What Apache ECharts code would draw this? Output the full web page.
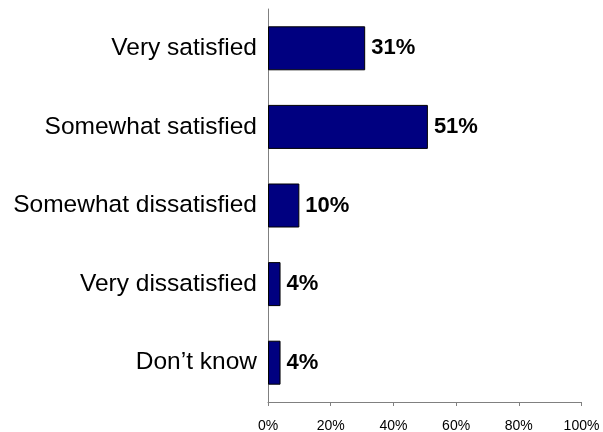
<!DOCTYPE html>
<html>
<head>
<meta charset="utf-8">
<script src="https://cdn.jsdelivr.net/npm/echarts@6/dist/echarts.min.js"></script>
<style>
  html, body { margin: 0; padding: 0; background: #fff; }
  #chart { width: 603px; height: 432px; }
</style>
</head>
<body>
<div id="chart"></div>
<script>
// Satisfaction responses, top to bottom
const categories = ['Very satisfied', 'Somewhat satisfied', 'Somewhat dissatisfied', 'Very dissatisfied', 'Don\u2019t know'];
const shares = [31, 51, 10, 4, 4];
const tickValues = [0, 20, 40, 60, 80, 100];

const chart = echarts.init(document.getElementById('chart'));
chart.setOption({
  animation: false,
  backgroundColor: '#ffffff',
  grid: {
    left: 268, right: 21.5, top: 9, bottom: 30,
    containLabel: false,
    outerBoundsMode: 'none'
  },
  xAxis: {
    type: 'value',
    min: tickValues[0],
    max: tickValues[tickValues.length - 1],
    interval: 20,
    splitLine: { show: false },
    axisLine: { show: true, lineStyle: { color: '#808080', width: 1 } },
    axisTick: { show: true, length: 4, lineStyle: { color: '#808080' } },
    axisLabel: {
      formatter: v => v + '%',
      fontFamily: 'Liberation Sans, Arial, sans-serif',
      fontSize: 14,
      color: '#000',
      margin: 17
    }
  },
  yAxis: {
    type: 'category',
    data: categories,
    inverse: true,
    axisLine: { show: true, lineStyle: { color: '#808080', width: 1 } },
    axisTick: { show: false },
    axisLabel: {
      fontFamily: '"Liberation Sans Narrow", "Arial Narrow", "Liberation Sans", sans-serif',
      fontSize: 24.5,
      color: '#000',
      margin: 11
    }
  },
  series: [{
    type: 'bar',
    data: shares,
    barWidth: 44,
    itemStyle: { color: '#000080', borderColor: '#000000', borderWidth: 1 },
    label: {
      show: true,
      position: 'right',
      distance: 6,
      formatter: p => p.value + '%',
      fontFamily: 'Liberation Sans, Arial, sans-serif',
      fontWeight: 'bold',
      fontSize: 22,
      color: '#000'
    }
  }]
});
</script>
</body>
</html>
